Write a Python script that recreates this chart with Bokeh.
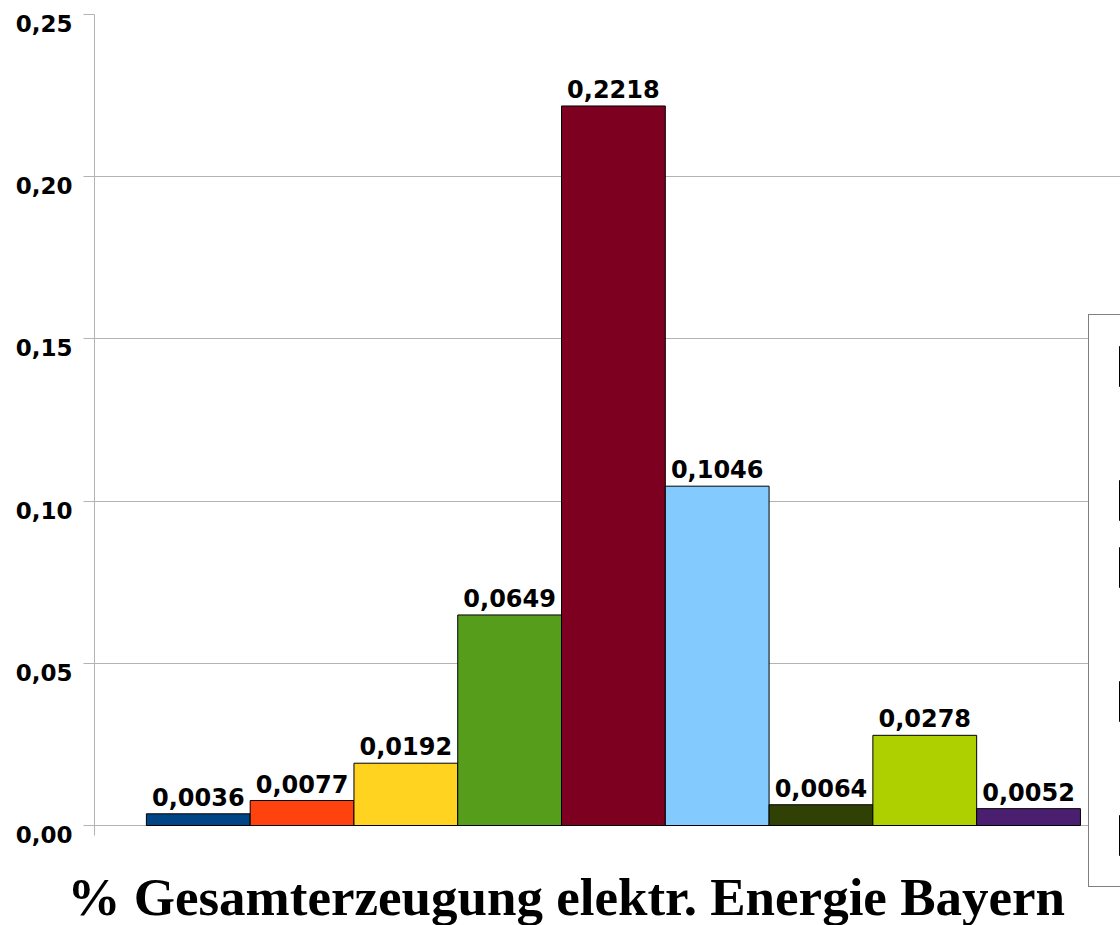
from bokeh.plotting import figure
from bokeh.models import (Range1d, FixedTicker, Legend, LegendItem, LinearAxis,
                          ColumnDataSource, Title)
from bokeh.core.properties import value
from bokeh.embed import file_html
from bokeh.resources import INLINE

# ---- data ----
values = [0.0036, 0.0077, 0.0192, 0.0649, 0.2218, 0.1046, 0.0064, 0.0278, 0.0052]
colors = ["#004586", "#ff420e", "#ffd320", "#579d1c", "#7e0021",
          "#83caff", "#314004", "#aecf00", "#4b1f6f"]
y_ticks = [0.0, 0.05, 0.10, 0.15, 0.20, 0.25]
y_tick_labels = ["0,00", "0,05", "0,10", "0,15", "0,20", "0,25"]
title_text = "% Gesamterzeugung elektr. Energie Bayern"

value_labels = [f"{v:.4f}".replace(".", ",") for v in values]

GRID = "#b3b3b3"
PX = 0.25 / 811.0          # data units per screen pixel on the value axis
Y0 = -70 * PX              # frame reaches below the zero line

p = figure(width=1120, height=925, output_backend="svg", toolbar_location=None,
           x_range=Range1d(-1, 8.886), y_range=Range1d(Y0, 0.25),
           min_border_left=94, min_border_right=0, min_border_top=14,
           min_border_bottom=30)
p.outline_line_color = None
p.background_fill_color = "white"
p.border_fill_color = "white"
p.xaxis.visible = False
p.xgrid.grid_line_color = None

src = ColumnDataSource(dict(x=list(range(len(values))), top=values,
                            color=colors, label=value_labels))
bars = p.vbar(x="x", top="top", width=1.0, bottom=0, source=src,
              fill_color="color", line_color="black", line_width=1)

p.text(x="x", y="top", text="label", source=src,
       text_font=value("DejaVu Sans"), text_font_style="bold",
       text_font_size="24px", text_align="center",
       text_baseline="alphabetic", y_offset=-17, text_color="black")

# main value axis: line + outward ticks
yax = p.yaxis[0]
yax.ticker = FixedTicker(ticks=y_ticks)
yax.bounds = (-10 * PX, 0.25)
yax.axis_line_color = GRID
yax.major_tick_line_color = GRID
yax.major_tick_out = 11
yax.major_tick_in = 0
yax.minor_tick_line_color = None
yax.major_label_overrides = {t: "" for t in y_ticks}
yax.major_label_text_font_size = "0px"
yax.major_label_standoff = 0

p.ygrid.ticker = FixedTicker(ticks=y_ticks)
p.ygrid.grid_line_color = GRID

# tick labels sit slightly below their ticks in the reference
p.extra_y_ranges = {"lab": Range1d(Y0 + 9 * PX, 0.25 + 9 * PX)}
lab_axis = LinearAxis(y_range_name="lab", ticker=FixedTicker(ticks=y_ticks),
                      major_label_overrides=dict(zip(y_ticks, y_tick_labels)),
                      axis_line_color=None, major_tick_line_color=None,
                      minor_tick_line_color=None, major_tick_out=0,
                      major_tick_in=0, major_label_standoff=11,
                      major_label_text_font="DejaVu Sans",
                      major_label_text_font_style="bold",
                      major_label_text_font_size="23px",
                      major_label_text_color="black")
p.add_layout(lab_axis, "left")

# legend (only its left edge is visible in the reference)
spacer = p.vbar(x=[], top=[], width=1.0, fill_alpha=0, line_alpha=0)
order = [0, None, 1, 2, None, 3, None, 4, 5, 6, 7, 8]
items = [LegendItem(label=" ", renderers=[bars], index=i) if i is not None
         else LegendItem(label=" ", renderers=[spacer]) for i in order]
legend = Legend(items=items, location=(994, 8), nrows=8,
                glyph_height=50, glyph_width=40, padding=26, spacing=17,
                margin=0, label_standoff=10, label_width=400, label_height=20,
                label_text_font_size="13px",
                border_line_color="black", border_line_width=1.5,
                background_fill_color="white", background_fill_alpha=1.0)
p.add_layout(legend)

p.add_layout(Title(text=title_text, align="left", offset=-27,
                   text_font="Liberation Serif", text_font_style="bold",
                   text_font_size="53px", text_color="black", standoff=-61),
             "below")

open("out.html", "w").write(file_html(p, INLINE))
